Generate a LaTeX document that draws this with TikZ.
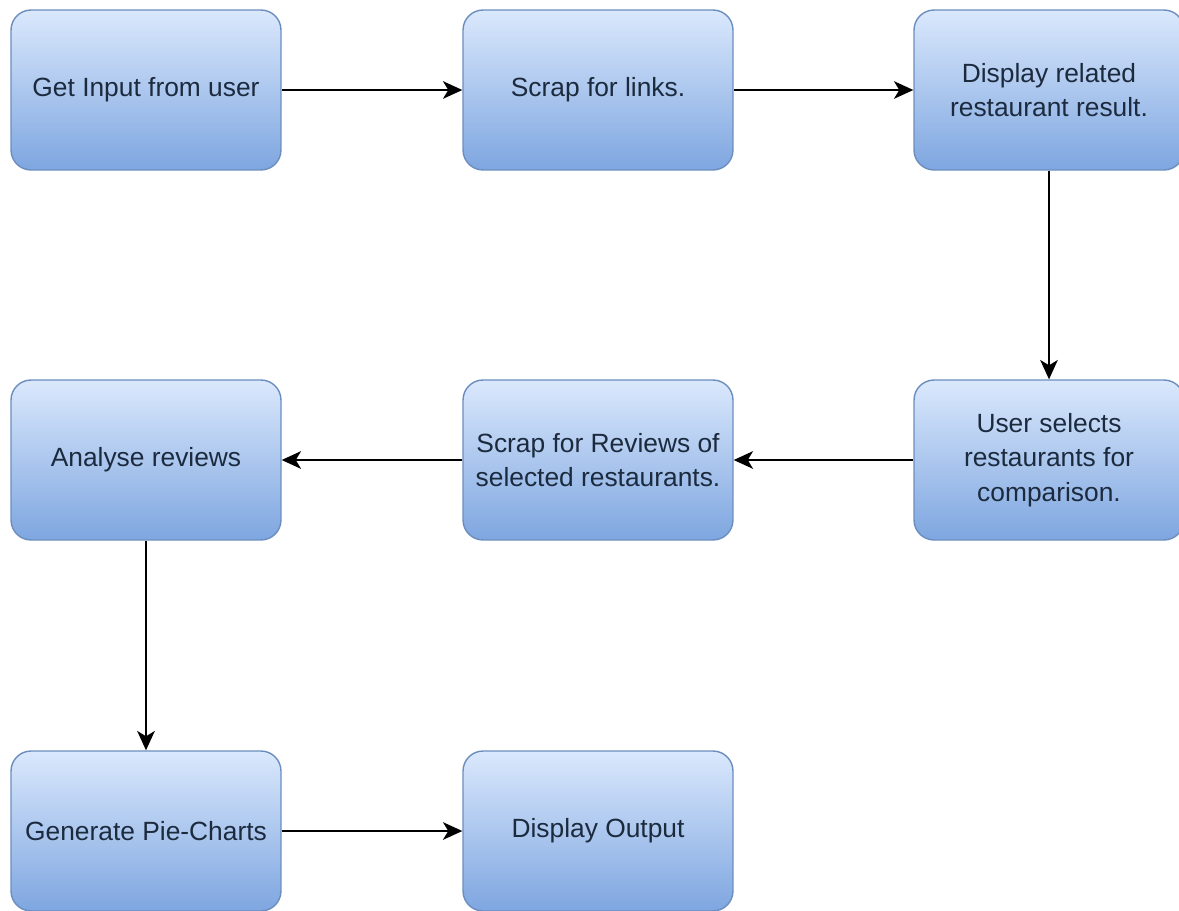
\documentclass[tikz,border=0pt]{standalone}
\usepackage{fontspec}
\setmainfont{Liberation Sans}
\usepackage{tikz}
\usetikzlibrary{positioning, arrows.meta}
\definecolor{boxtop}{HTML}{DAE8FC}
\definecolor{boxbottom}{HTML}{7EA6E0}
\definecolor{boxline}{HTML}{6C8EBF}
\definecolor{boxtext}{HTML}{1C2A3E}
\begin{document}
\begin{tikzpicture}[x=0.02cm,y=-0.02cm]
		\tikzstyle{block} = [rectangle, draw=boxline, line width=0.8pt, top color=boxtop, bottom color=boxbottom,
		minimum width=5.4cm, minimum height=3.2cm, rounded corners=0.4cm, align=center,
		text=boxtext, font=\fontsize{15}{19.5}\selectfont]
		\tikzstyle{link} = [-{Stealth[length=11pt,width=10pt,inset=3pt]}, line width=1.2pt]
		
		\useasboundingbox (0,0) rectangle (1179,910);
		
		\node [block] (v1) at (146,90) {Get Input from user};
		\node [block] (v2) at (598,90) {Scrap for links.};
		\node [block] (v3) at (1049,90) {Display related\\ restaurant result.};
		\node [block] (v4) at (1049,460) {User selects\\ restaurants for\\ comparison.};
		\node [block] (v5) at (598,460) {Scrap for Reviews of\\ selected restaurants.};
		\node [block] (v6) at (146,460) {Analyse reviews};
		\node [block] (v7) at (146,831) {Generate Pie-Charts};
		\node [block] (v8) at (598,831) {Display Output};
		\draw [link] (v1) -- (v2);
		\draw [link] (v2) -- (v3);
		\draw [link] (v3) -- (v4);
		\draw [link] (v4) -- (v5);
		\draw [link] (v5) -- (v6);
		\draw [link] (v6) -- (v7);
		\draw [link] (v7) -- (v8);
		\end{tikzpicture}
\end{document}
